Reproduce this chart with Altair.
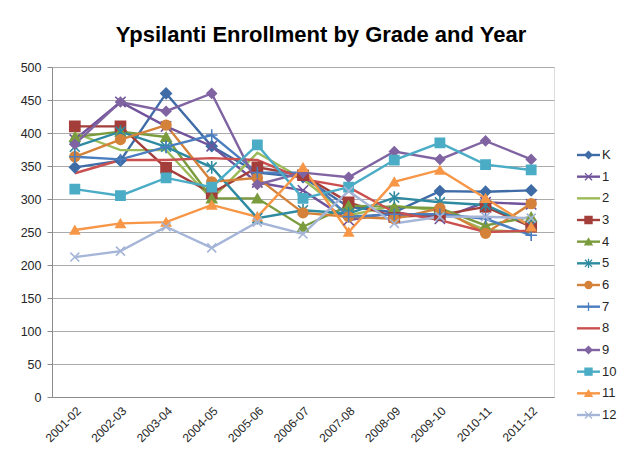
import altair as alt
import pandas as pd

years = ["2001-02", "2002-03", "2003-04", "2004-05", "2005-06", "2006-07",
         "2007-08", "2008-09", "2009-10", "2010-11", "2011-12"]
grades = ["K", "1", "2", "3", "4", "5", "6", "7", "8", "9", "10", "11", "12"]

g_K = [348, 358, 460, 380, 340, 333, 288, 280, 312, 311, 313]
g_1 = [390, 447, 410, 380, 325, 313, 268, 280, 270, 295, 292]
g_2 = [400, 374, 374, 300, 370, 330, 275, 290, 282, 253, 250]
g_3 = [410, 410, 347, 309, 348, 336, 295, 273, 276, 288, 258]
g_4 = [394, 402, 394, 301, 301, 258, 290, 288, 286, 260, 273]
g_5 = [379, 402, 379, 348, 271, 283, 278, 302, 295, 291, 260]
g_6 = [364, 390, 412, 326, 332, 279, 273, 270, 286, 248, 293]
g_7 = [364, 360, 379, 397, 340, 340, 273, 277, 277, 270, 245]
g_8 = [339, 359, 359, 362, 359, 330, 318, 280, 268, 250, 252]
g_9 = [383, 447, 433, 460, 322, 340, 333, 372, 360, 388, 360]
g_10 = [315, 305, 332, 318, 382, 301, 318, 359, 385, 352, 344]
g_11 = [253, 263, 265, 291, 273, 348, 250, 326, 344, 301, 258]
g_12 = [212, 221, 258, 226, 265, 247, 312, 263, 273, 273, 271]

series = [g_K, g_1, g_2, g_3, g_4, g_5, g_6, g_7, g_8, g_9, g_10, g_11, g_12]

colors = ["#3F6CA6", "#71539B", "#9BBB59", "#A33E3B", "#7B9C3E", "#2E8AA0",
          "#D4823A", "#4A7EBF", "#C9504E", "#8064A2", "#4BACC6", "#F79646", "#A5B5D8"]

X_PATH = "M-1,-1L1,1M-1,1L1,-1"
AST_PATH = "M-1,-1L1,1M-1,1L1,-1M0,-1.3L0,1.3"
PLUS_PATH = "M-1.2,0L1.2,0M0,-1.2L0,1.2"
shapes = ["diamond", X_PATH, "circle", "square", "triangle-up", AST_PATH,
          "circle", PLUS_PATH, "circle", "diamond", "square", "triangle-up", X_PATH]
has_marker = [True, True, False, True, True, True, True, True, False, True, True, True, True]
sizes = [110, 80, 80, 100, 100, 90, 100, 110, 80, 110, 110, 110, 90]

rows = []
for gi, g in enumerate(grades):
    for yr, v in zip(years, series[gi]):
        rows.append({"grade": g, "year": yr, "students": v, "marker": has_marker[gi]})
df = pd.DataFrame(rows)
leg_df = pd.DataFrame({"grade": grades, "marker": has_marker})

color_scale = alt.Scale(domain=grades, range=colors)
shape_scale = alt.Scale(domain=grades, range=shapes)
size_scale = alt.Scale(domain=grades, range=sizes)

FONT = "Liberation Sans"

x_enc = alt.X("year:O", sort=years, title=None,
              scale=alt.Scale(type="point", padding=0.5),
              axis=alt.Axis(labelAngle=-45, labelFontSize=12, labelFont=FONT,
                            labelColor="#262626", ticks=False, labelPadding=8,
                            domainColor="#8C8C8C", grid=False))
y_enc = alt.Y("students:Q", title=None,
              scale=alt.Scale(domain=[0, 500], nice=False),
              axis=alt.Axis(values=list(range(0, 501, 50)), labelFontSize=12.5,
                            labelFont=FONT, labelColor="#262626", tickSize=5,
                            tickColor="#8C8C8C", domainColor="#8C8C8C",
                            gridColor="#ABABAB", gridWidth=1.2, labelPadding=6))

lines = alt.Chart(df).mark_line(strokeWidth=2.4).encode(
    x=x_enc, y=y_enc,
    color=alt.Color("grade:N", scale=color_scale, legend=None),
    detail="grade:N",
)

points = alt.Chart(df).transform_filter("datum.marker").mark_point(
    filled=True, strokeWidth=1.6, opacity=1
).encode(
    x=x_enc, y=y_enc,
    color=alt.Color("grade:N", scale=color_scale, legend=None),
    stroke=alt.Stroke("grade:N", scale=color_scale, legend=None),
    shape=alt.Shape("grade:N", scale=shape_scale, legend=None),
    size=alt.Size("grade:N", scale=size_scale, legend=None),
)

leg_y = alt.Y("grade:N", sort=grades, axis=None,
              scale=alt.Scale(type="point", domain=grades, range=[88, 348], padding=0))

leg_rule = alt.Chart(leg_df).mark_rule(strokeWidth=2.4).encode(
    x=alt.value(525), x2=alt.value(548), y=leg_y,
    color=alt.Color("grade:N", scale=color_scale, legend=None),
)
leg_pts = alt.Chart(leg_df).transform_filter("datum.marker").mark_point(
    filled=True, strokeWidth=1.3, opacity=1, size=50
).encode(
    x=alt.value(536.5), y=leg_y,
    color=alt.Color("grade:N", scale=color_scale, legend=None),
    stroke=alt.Stroke("grade:N", scale=color_scale, legend=None),
    shape=alt.Shape("grade:N", scale=shape_scale, legend=None),
)
leg_txt = alt.Chart(leg_df).mark_text(
    align="left", baseline="middle", fontSize=13, font=FONT, color="#262626"
).encode(x=alt.value(550), y=leg_y, text="grade:N")

main = alt.layer(lines, points)
legend = alt.layer(leg_rule, leg_pts, leg_txt)

chart = alt.layer(main, legend).resolve_scale(
    y="independent"
).properties(
    width=502, height=330,
    autosize=alt.AutoSizeParams(type="none"),
    padding={"left": 44, "top": 59, "right": 67, "bottom": 51},
    title=alt.TitleParams("Ypsilanti Enrollment by Grade and Year", fontSize=22,
                          font=FONT, fontWeight="bold", color="black",
                          anchor="middle", dx=18, offset=14),
).configure_view(stroke=None).configure(background="white")

chart.save("out.html", embed_options={"renderer": "svg", "actions": False})
